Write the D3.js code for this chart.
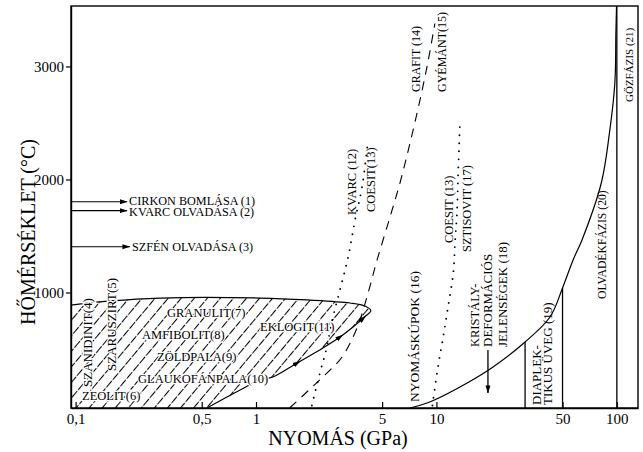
<!DOCTYPE html>
<html><head><meta charset="utf-8">
<script src="https://cdn.jsdelivr.net/npm/d3@7"></script>
<style>
body{margin:0;background:#fff;}
text{font-family:"Liberation Serif","Times New Roman",serif;fill:#000;}
</style></head>
<body><svg id="c" width="643" height="452"></svg>
<script>
// ---------- data ----------
const pressureTicks = [0.1, 0.5, 1, 5, 10, 50, 100];
const pressureTickLabels = ["0,1", "0,5", "1", "5", "10", "50", "100"];
const tempTicks = [1000, 2000, 3000];
const tempTickLabels = ["1000", "2000", "3000"];

// metamorphic facies field (GPa, °C): upper boundary then lower boundary
const faciesUpper = [[0.0943, 889], [0.155, 925], [0.294, 951], [1.05, 951], [1.92, 934], [3.32, 907], [4.02, 880], [4.33, 838]];
const faciesLower = [[4.0, 785], [3.45, 695], [2.92, 606], [2.35, 509], [1.69, 376], [1.24, 252], [1.05, 226], [0.815, 137], [0.535, -22]];
const faciesArrowPath = [[1.24, 252], [1.69, 376], [2.92, 606], [3.92, 770], [4.2, 815]];

const quartzCoesite = [[2.04, 0], [2.26, 287], [2.47, 518], [2.67, 783], [2.92, 1022], [3.24, 1314], [3.54, 1642], [3.87, 1934], [4.18, 2350]];
const graphiteDiamond = [[1.54, -20], [2.57, 314], [3.0, 429], [3.63, 686], [4.18, 996], [4.69, 1288], [5.53, 1668], [6.28, 1969], [7.14, 2323], [8.11, 2704], [9.0, 3050], [9.8, 3380]];
const coesiteStishovite = [[9.5, 0], [10.2, 341], [10.9, 606], [11.6, 872], [12.4, 1173], [12.7, 1465], [13.0, 1704], [13.2, 2058], [13.5, 2500]];
const meltCurve = [[7.14, -22], [9.46, 40], [14.8, 199], [20.6, 341], [31, 562], [42.6, 783], [50, 1040], [57.2, 1288], [64.1, 1465], [82, 1969], [91, 2412], [97.5, 2854], [98.8, 3296], [99.6, 3535]];
const shockLines = [[31, 562], [50, 1040], [100, 3535]]; // pressure, top temperature
const decompArrows = [[0.193, 1803, "CIRKON BOMLÁSA (1)"], [0.193, 1724, "KVARC OLVADÁSA (2)"], [0.2, 1405, "SZFÉN OLVADÁSA (3)"]];
const deformArrow = [[19.3, 491], [19.3, 111]];

// ---------- scales ----------
const svg = d3.select("#c");
const x = d3.scaleLog().domain([0.0943, 131]).range([71, 638]);
const y = d3.scaleLinear().domain([-22, 3535]).range([408, 6]);
const line = d3.line().x(d => x(d[0])).y(d => y(d[1]));

const defs = svg.append("defs");
const pat = defs.append("pattern").attr("id", "hatch").attr("patternUnits", "userSpaceOnUse")
  .attr("width", 10).attr("height", 10).attr("patternTransform", "rotate(40)");
pat.append("line").attr("x1", 0.5).attr("y1", 0).attr("x2", 0.5).attr("y2", 10)
  .attr("stroke", "#000").attr("stroke-width", 1.05).attr("stroke-dasharray", "8.5,1.5");
defs.append("marker").attr("id", "arr").attr("markerUnits", "userSpaceOnUse")
  .attr("markerWidth", 8).attr("markerHeight", 6).attr("refX", 7.5).attr("refY", 3).attr("orient", "auto")
  .append("path").attr("d", "M0,0.5 L8,3 L0,5.5 Z").attr("fill", "#000");
defs.append("marker").attr("id", "arrm").attr("markerUnits", "userSpaceOnUse")
  .attr("markerWidth", 8).attr("markerHeight", 6).attr("refX", 4).attr("refY", 3).attr("orient", "auto")
  .append("path").attr("d", "M0,0.5 L8,3 L0,5.5 Z").attr("fill", "#000");

// facies field
const outline = faciesUpper.concat(faciesLower);
const outlinePath = d3.line().x(d => x(d[0])).y(d => y(d[1])).curve(d3.curveCatmullRom.alpha(0.5))(outline);
svg.append("path").attr("d", outlinePath + `L${x(x.domain()[0])},${y(y.domain()[0])}Z`)
  .attr("fill", "url(#hatch)").attr("stroke", "none");
svg.append("path").attr("d", outlinePath).attr("fill", "none").attr("stroke", "#000").attr("stroke-width", 1.2);
svg.append("path").attr("d", line(faciesArrowPath)).attr("fill", "none").attr("stroke", "none")
  .attr("marker-mid", "url(#arrm)");

// transition lines
svg.append("path").attr("d", line.curve(d3.curveCatmullRom)(quartzCoesite)).attr("fill", "none")
  .attr("stroke", "#000").attr("stroke-width", 1.9).attr("stroke-linecap", "round").attr("stroke-dasharray", "0,8");
svg.append("path").attr("d", line.curve(d3.curveCatmullRom)(coesiteStishovite)).attr("fill", "none")
  .attr("stroke", "#000").attr("stroke-width", 1.9).attr("stroke-linecap", "round").attr("stroke-dasharray", "0,8");
svg.append("path").attr("d", line.curve(d3.curveCatmullRom)(graphiteDiamond)).attr("fill", "none")
  .attr("stroke", "#000").attr("stroke-width", 1.1).attr("stroke-dasharray", "9,7");
svg.append("path").attr("d", line.curve(d3.curveCatmullRom)(meltCurve)).attr("fill", "none")
  .attr("stroke", "#000").attr("stroke-width", 1.2);
svg.selectAll(".shock").data(shockLines).enter().append("line")
  .attr("x1", d => x(d[0])).attr("x2", d => x(d[0])).attr("y1", y(y.domain()[0])).attr("y2", d => y(d[1]))
  .attr("stroke", "#000").attr("stroke-width", 1.3);

// arrows from the axis
svg.selectAll(".dec").data(decompArrows).enter().append("line")
  .attr("x1", x(x.domain()[0])).attr("x2", d => x(d[0])).attr("y1", d => y(d[1])).attr("y2", d => y(d[1]))
  .attr("stroke", "#000").attr("stroke-width", 1.1).attr("marker-end", "url(#arr)");
svg.selectAll(".decl").data(decompArrows).enter().append("text")
  .attr("x", d => x(d[0]) + 2).attr("y", (d, i) => y(d[1]) + (i === 0 ? 3.6 : i === 1 ? 5 : 4.3))
  .attr("font-size", 12.2).text(d => d[2]);
svg.append("line").attr("x1", x(deformArrow[0][0])).attr("x2", x(deformArrow[1][0]))
  .attr("y1", y(deformArrow[0][1])).attr("y2", y(deformArrow[1][1]))
  .attr("stroke", "#000").attr("stroke-width", 1.3).attr("marker-end", "url(#arr)");

// axes
const xAxis = d3.axisBottom(x).tickValues(pressureTicks).tickFormat((d, i) => pressureTickLabels[i])
  .tickSizeInner(-6).tickSizeOuter(0).tickPadding(5);
const gx = svg.append("g").attr("transform", "translate(0,408)").call(xAxis);
const yAxis = d3.axisLeft(y).tickValues(tempTicks).tickFormat((d, i) => tempTickLabels[i])
  .tickSizeInner(5).tickSizeOuter(0).tickPadding(2);
const gy = svg.append("g").attr("transform", "translate(71,0)").call(yAxis);
[gx, gy].forEach(g => {
  g.selectAll("text").attr("font-family", '"Liberation Serif","Times New Roman",serif').attr("font-size", 15).attr("fill", "#000");
  g.selectAll("line").attr("stroke", "#000").attr("stroke-width", 1.2);
  g.select(".domain").attr("stroke", "#000").attr("stroke-width", 1.4);
});
svg.append("rect").attr("x", 71).attr("y", 6).attr("width", 567).attr("height", 402)
  .attr("fill", "none").attr("stroke", "#000").attr("stroke-width", 1.4);

// axis titles
svg.append("text").attr("x", 338).attr("y", 445).attr("text-anchor", "middle").attr("font-size", 20).text("NYOMÁS (GPa)");
svg.append("text").attr("transform", "translate(35,232) rotate(-90)").attr("text-anchor", "middle").attr("font-size", 20).text("HŐMÉRSÉKLET (°C)");

// horizontal labels in the field
const hLabels = [
  [167, 317, "GRANULIT(7)"], [142, 339, "AMFIBOLIT(8)"], [157, 361, "ZÖLDPALA(9)"],
  [138, 383, "GLAUKOFÁNPALA(10)"], [82, 400, "ZEOLIT(6)"], [260, 331, "EKLOGIT(11)"]
];
svg.selectAll(".hl").data(hLabels).enter().append("text")
  .attr("x", d => d[0]).attr("y", d => d[1]).attr("font-size", 12.5)
  .attr("stroke", "#fff").attr("stroke-width", 2.5).attr("paint-order", "stroke").text(d => d[2]);

// vertical labels [baseline x, start y, text, size]
const vLabels = [
  [92, 387, "SZANIDINIT(4)", 13], [116, 371, "SZARUSZIRT(5)", 13],
  [356, 215, "KVARC (12)", 12.5], [375, 212, "COESIT(13)", 12.5],
  [420, 92, "GRAFIT (14)", 12], [446, 92, "GYÉMÁNT(15)", 12],
  [453, 243, "COESIT (13)", 12.5], [471, 252, "SZTISOVIT (17)", 12.5],
  [419, 402, "NYOMÁSKÚPOK (16)", 13.5],
  [479, 347, "KRISTÁLY-", 12.5], [492, 347, "DEFORMÁCIÓS", 13], [507, 347, "JELENSÉGEK (18)", 13],
  [541, 405, "DIAPLEK-", 13], [552, 405, "TIKUS ÜVEG (19)", 13],
  [606, 299, "OLVADÉKFÁZIS (20)", 11.7], [633, 102, "GŐZFÁZIS (21)", 11]
];
svg.selectAll(".vl").data(vLabels).enter().append("text")
  .attr("transform", d => `translate(${d[0]},${d[1]}) rotate(-90)`)
  .attr("font-size", d => d[3])
  .attr("stroke", (d, i) => i < 2 ? "#fff" : "none").attr("stroke-width", 2.5).attr("paint-order", "stroke")
  .text(d => d[2]);
</script></body></html>
